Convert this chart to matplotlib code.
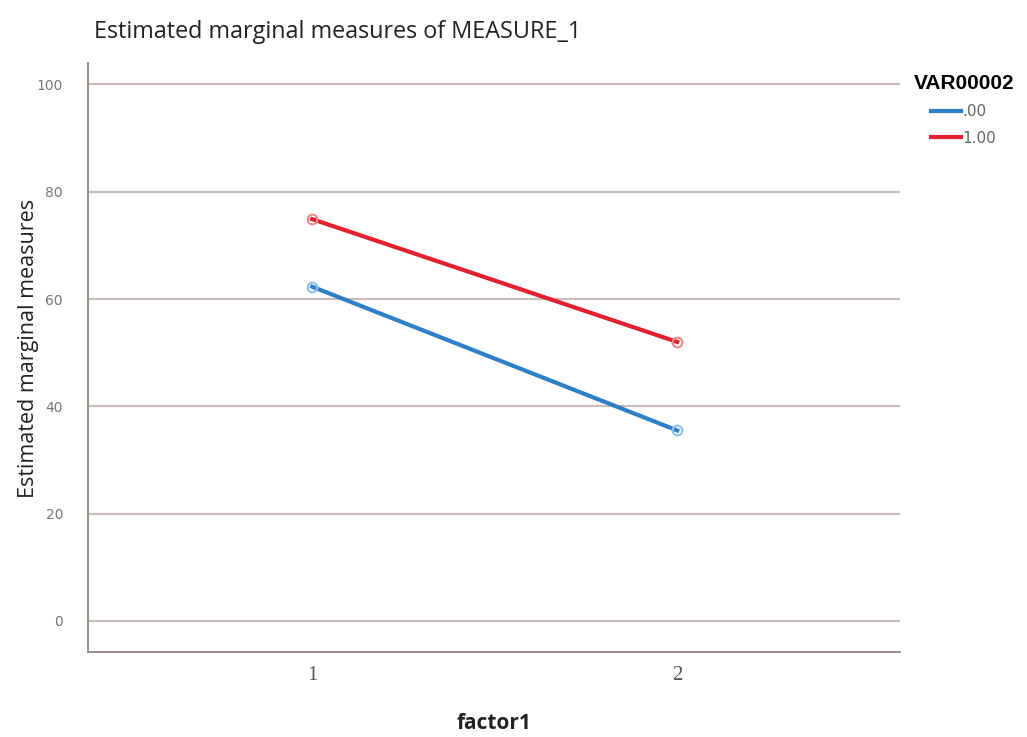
import matplotlib.pyplot as plt

factor_levels = [1, 2]
group_labels = [".00", "1.00"]
means_00 = [62.3, 35.5]
means_100 = [74.9, 52.0]
y_ticks = [0, 20, 40, 60, 80, 100]

blue = "#2f7fc8"
red = "#e3202f"
grid_col = "#c9bdb8"

fig = plt.figure(figsize=(10.27, 7.37), dpi=100)
ax = fig.add_axes([0.0857, 0.1153, 0.7906, 0.7992])

for y in y_ticks:
    ax.axhline(y, color=grid_col, lw=1.6, zorder=0)

# lines first, then open circle markers so the legend shows plain lines
ax.plot(factor_levels, means_00, color=blue, lw=3, label=group_labels[0])
ax.plot(factor_levels, means_100, color=red, lw=3, label=group_labels[1])
ax.plot(factor_levels, means_00, ls="none", marker="o", ms=7,
        mfc="none", mec="#8ec0ea", mew=1.5)
ax.plot(factor_levels, means_100, ls="none", marker="o", ms=7,
        mfc="none", mec="#f08a8a", mew=1.5)

ax.set_xlim(0.386, 2.61)
ax.set_ylim(-5.8, 104)
ax.set_xticks(factor_levels)
ax.set_xticklabels([str(v) for v in factor_levels], family="Liberation Serif",
                   fontsize=15, color="#555555")
ax.set_yticks(y_ticks)
ax.set_yticklabels([str(v) for v in y_ticks], fontsize=10, color="#777777")
ax.tick_params(axis="both", length=0, pad=10)
ax.tick_params(axis="y", pad=18)

for s in ["top", "right"]:
    ax.spines[s].set_visible(False)
for s in ["left", "bottom"]:
    ax.spines[s].set_color("#9a8c88")
    ax.spines[s].set_linewidth(1.4)

ax.set_ylabel("Estimated marginal measures", family="Open Sans", fontsize=15.5,
              fontweight="medium", color="#222222")
ax.yaxis.set_label_coords(-0.06, 0.515)
ax.set_xlabel("factor1", family="Open Sans", fontsize=15, fontweight="bold",
              color="#222222", labelpad=20)

fig.text(0.092, 0.957, "Estimated marginal measures of MEASURE_1", family="Open Sans",
         fontsize=16.8, fontweight="medium", color="#222222", va="center")

leg = ax.legend(title="VAR00002", loc="upper left", bbox_to_anchor=(1.0, 1.005),
                frameon=False, handlelength=1.9, handletextpad=0.15, fontsize=11,
                labelspacing=0.75)
leg.get_title().set_fontweight("bold")
leg.get_title().set_fontsize(15)
leg.get_title().set_family("Liberation Sans")
for t in leg.get_texts():
    t.set_color("#666666")

fig.savefig("out.png", dpi=100, facecolor="white")
